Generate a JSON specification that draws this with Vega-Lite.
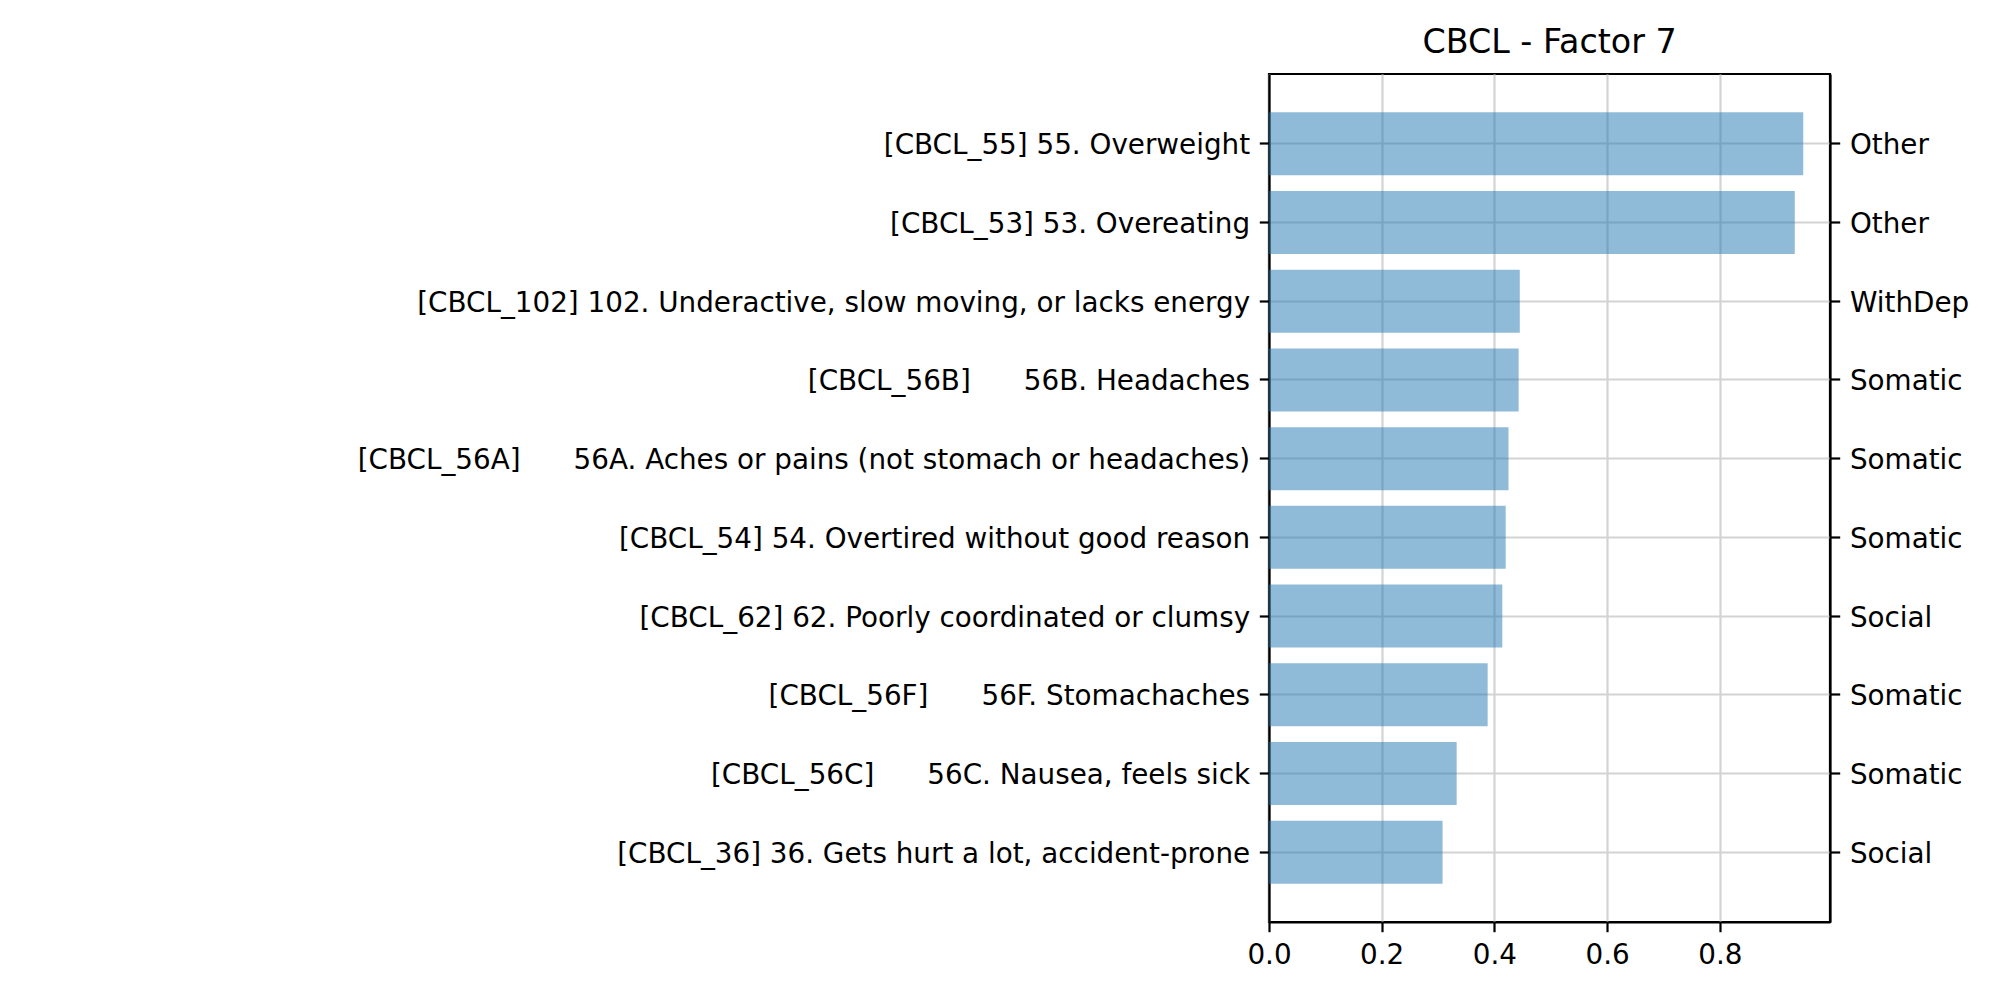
{
  "$schema": "https://vega.github.io/schema/vega-lite/v6.json",
  "width": 561,
  "height": 848,
  "autosize": "none",
  "padding": {"left": 1269, "top": 74, "right": 170, "bottom": 78},
  "background": "white",
  "title": {
    "text": "CBCL - Factor 7",
    "font": "DejaVu Sans",
    "fontSize": 33.3,
    "fontWeight": "normal",
    "color": "black",
    "anchor": "middle",
    "offset": 14
  },
  "data": {
    "values": [
      {"item": "[CBCL_55] 55. Overweight", "rk": "01|Other", "loading": 0.948},
      {"item": "[CBCL_53] 53. Overeating", "rk": "02|Other", "loading": 0.933},
      {"item": "[CBCL_102] 102. Underactive, slow moving, or lacks energy", "rk": "03|WithDep", "loading": 0.445},
      {"item": "[CBCL_56B]\u00a0\u00a0\u00a0\u00a0\u00a0\u00a056B. Headaches", "rk": "04|Somatic", "loading": 0.443},
      {"item": "[CBCL_56A]\u00a0\u00a0\u00a0\u00a0\u00a0\u00a056A. Aches or pains (not stomach or headaches)", "rk": "05|Somatic", "loading": 0.425},
      {"item": "[CBCL_54] 54. Overtired without good reason", "rk": "06|Somatic", "loading": 0.420},
      {"item": "[CBCL_62] 62. Poorly coordinated or clumsy", "rk": "07|Social", "loading": 0.414},
      {"item": "[CBCL_56F]\u00a0\u00a0\u00a0\u00a0\u00a0\u00a056F. Stomachaches", "rk": "08|Somatic", "loading": 0.388},
      {"item": "[CBCL_56C]\u00a0\u00a0\u00a0\u00a0\u00a0\u00a056C. Nausea, feels sick", "rk": "09|Somatic", "loading": 0.333},
      {"item": "[CBCL_36] 36. Gets hurt a lot, accident-prone", "rk": "10|Social", "loading": 0.308}
    ]
  },
  "layer": [
    {
      "mark": {"type": "bar", "color": "#1f77b4", "opacity": 0.5},
      "encoding": {
        "x": {
          "field": "loading",
          "type": "quantitative",
          "scale": {"domain": [0, 0.9955], "nice": false, "zero": true},
          "axis": {
            "title": null,
            "values": [0, 0.2, 0.4, 0.6, 0.8],
            "format": ".1f",
            "grid": true,
            "labelFlush": false,
            "orient": "bottom"
          }
        },
        "y": {
          "field": "item",
          "type": "nominal",
          "sort": null,
          "scale": {"paddingInner": 0.2, "paddingOuter": 0.4875},
          "axis": {
            "title": null,
            "orient": "left",
            "grid": true,
            "bandPosition": 0.5,
            "labelOffset": 2.5
          }
        }
      }
    },
    {
      "mark": {"type": "bar", "opacity": 0},
      "encoding": {
        "x": {"field": "loading", "type": "quantitative"},
        "y": {
          "field": "rk",
          "type": "nominal",
          "sort": null,
          "scale": {"paddingInner": 0.2, "paddingOuter": 0.4875},
          "axis": {
            "title": null,
            "orient": "right",
            "grid": false,
            "bandPosition": 0.5,
            "labelOffset": 2.5,
            "labelExpr": "split(datum.label, '|')[1]"
          }
        }
      }
    }
  ],
  "resolve": {"scale": {"y": "independent"}},
  "config": {
    "view": {"stroke": "black", "strokeWidth": 2.2},
    "axis": {
      "labelFont": "DejaVu Sans",
      "labelFontSize": 27.8,
      "labelColor": "black",
      "labelLimit": 2000,
      "labelPadding": 9.7,
      "tickColor": "black",
      "tickSize": 9.7,
      "tickWidth": 2.2,
      "domainColor": "black",
      "domainWidth": 2.2,
      "gridColor": "#d3d3d3",
      "gridWidth": 2.2,
      "gridOpacity": 1
    }
  }
}
